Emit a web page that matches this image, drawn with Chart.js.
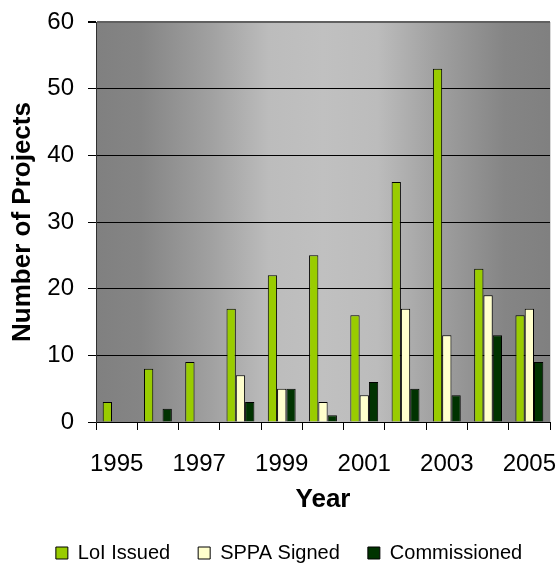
<!DOCTYPE html>
<html>
<head>
<meta charset="utf-8">
<script src="https://cdn.jsdelivr.net/npm/chart.js@4.4.1/dist/chart.umd.min.js"></script>
<style>
  html, body { margin: 0; padding: 0; background: #ffffff; }
  canvas { display: block; }
</style>
</head>
<body>
<canvas id="chart" width="558" height="564"></canvas>
<script>
// Project counts per year
const years = ['1995', '1996', '1997', '1998', '1999', '2000', '2001', '2002', '2003', '2004', '2005'];
const loiIssued = [3, 8, 9, 17, 22, 25, 16, 36, 53, 23, 16];
const sppaSigned = [0, 0, 0, 7, 5, 3, 4, 17, 13, 19, 17];
const commissioned = [0, 2, 0, 3, 5, 1, 6, 5, 4, 13, 9];
const yTickValues = [0, 10, 20, 30, 40, 50, 60];

const FONT = "'Liberation Sans', Arial, Helvetica, sans-serif";
const LEGEND_HEIGHT = 43;
const LEGEND_SHIFT_X = 14;
const LEGEND_SHIFT_Y = -6;

// Grey horizontal shading behind the bars, darker at both sides
const plotBackground = {
  id: 'plotBackground',
  afterInit(chart) {
    // keep the legend strip a fixed height so the plot keeps its size,
    // and nudge its row into place
    const legend = chart.legend;
    if (legend) {
      const baseFit = legend.fit;
      legend.fit = function () {
        baseFit.call(this);
        this.height = LEGEND_HEIGHT;
      };
      const baseDraw = legend.draw;
      legend.draw = function () {
        const saved = { top: this.top, left: this.left, right: this.right };
        this.top += LEGEND_SHIFT_Y;
        this.left += LEGEND_SHIFT_X;
        this.right += LEGEND_SHIFT_X;
        baseDraw.call(this);
        Object.assign(this, saved);
      };
    }
  },
  beforeDraw(chart) {
    const { ctx, chartArea: a } = chart;
    const g = ctx.createLinearGradient(a.left, 0, a.right, 0);
    g.addColorStop(0.00, '#808080');
    g.addColorStop(0.10, '#858585');
    g.addColorStop(0.25, '#a0a0a0');
    g.addColorStop(0.38, '#bcbcbc');
    g.addColorStop(0.50, '#c0c0c0');
    g.addColorStop(0.62, '#bcbcbc');
    g.addColorStop(0.75, '#a0a0a0');
    g.addColorStop(0.90, '#858585');
    g.addColorStop(1.00, '#808080');
    ctx.save();
    ctx.fillStyle = g;
    ctx.fillRect(a.left, a.top, a.right - a.left, a.bottom - a.top);
    ctx.fillStyle = '#d8d8d8';
    ctx.fillRect(a.right, a.top, 1, a.bottom - a.top);
    ctx.restore();
  }
};

new Chart(document.getElementById('chart'), {
  type: 'bar',
  data: {
    labels: years,
    datasets: [
      { label: 'LoI Issued', data: loiIssued, backgroundColor: '#99cc00', borderColor: '#000000', borderWidth: 1 },
      { label: 'SPPA Signed', data: sppaSigned, backgroundColor: '#ffffcc', borderColor: '#000000', borderWidth: 1 },
      { label: 'Commissioned', data: commissioned, backgroundColor: '#003300', borderColor: '#000000', borderWidth: 1 }
    ]
  },
  options: {
    responsive: false,
    animation: false,
    devicePixelRatio: 1,
    categoryPercentage: 0.675,
    barPercentage: 1.0,
    layout: { padding: { top: 22, right: 8, bottom: 0, left: 0 } },
    plugins: {
      tooltip: { enabled: false },
      legend: {
        position: 'bottom',
        labels: {
          boxWidth: 12,
          boxHeight: 12,
          padding: 28,
          color: '#000000',
          font: { family: FONT, size: 20 }
        }
      }
    },
    scales: {
      x: {
        grid: {
          offset: true,
          drawOnChartArea: false,
          drawTicks: true,
          tickLength: 8,
          color: '#000000',
          tickColor: '#000000'
        },
        border: { display: true, color: '#000000', width: 1 },
        ticks: {
          autoSkip: false,
          maxRotation: 0,
          padding: 20,
          color: '#000000',
          font: { family: FONT, size: 24 },
          callback: function (value, index) {
            return index % 2 === 0 ? this.getLabelForValue(value) : '';
          }
        },
        title: {
          display: true,
          text: 'Year',
          color: '#000000',
          font: { family: FONT, size: 26, weight: 'bold' },
          padding: { top: 0, bottom: 6 }
        },
        afterFit(scale) {
          scale.height = 99;
          scale.paddingLeft = 0;
          scale.paddingRight = 0;
        }
      },
      y: {
        min: yTickValues[0],
        max: yTickValues[yTickValues.length - 1],
        afterBuildTicks(scale) {
          scale.ticks = yTickValues.map(v => ({ value: v }));
        },
        grid: {
          color: ctx => (ctx.tick && ctx.tick.value === 60 ? '#606060' : '#000000'),
          lineWidth: ctx => (ctx.tick && ctx.tick.value === 60 ? 2 : 1),
          tickColor: '#000000',
          tickLength: 8,
          drawTicks: true
        },
        border: { display: true, color: '#303030', width: 1 },
        ticks: {
          padding: 14,
          color: '#000000',
          font: { family: FONT, size: 24 }
        },
        title: {
          display: true,
          text: 'Number of Projects',
          color: '#000000',
          font: { family: FONT, size: 26, weight: 'bold' },
          padding: { top: 7, bottom: 0 }
        },
        afterFit(scale) {
          scale.width = 96;
          scale.paddingTop = 0;
          scale.paddingBottom = 0;
        }
      }
    }
  },
  plugins: [plotBackground]
});
</script>
</body>
</html>
